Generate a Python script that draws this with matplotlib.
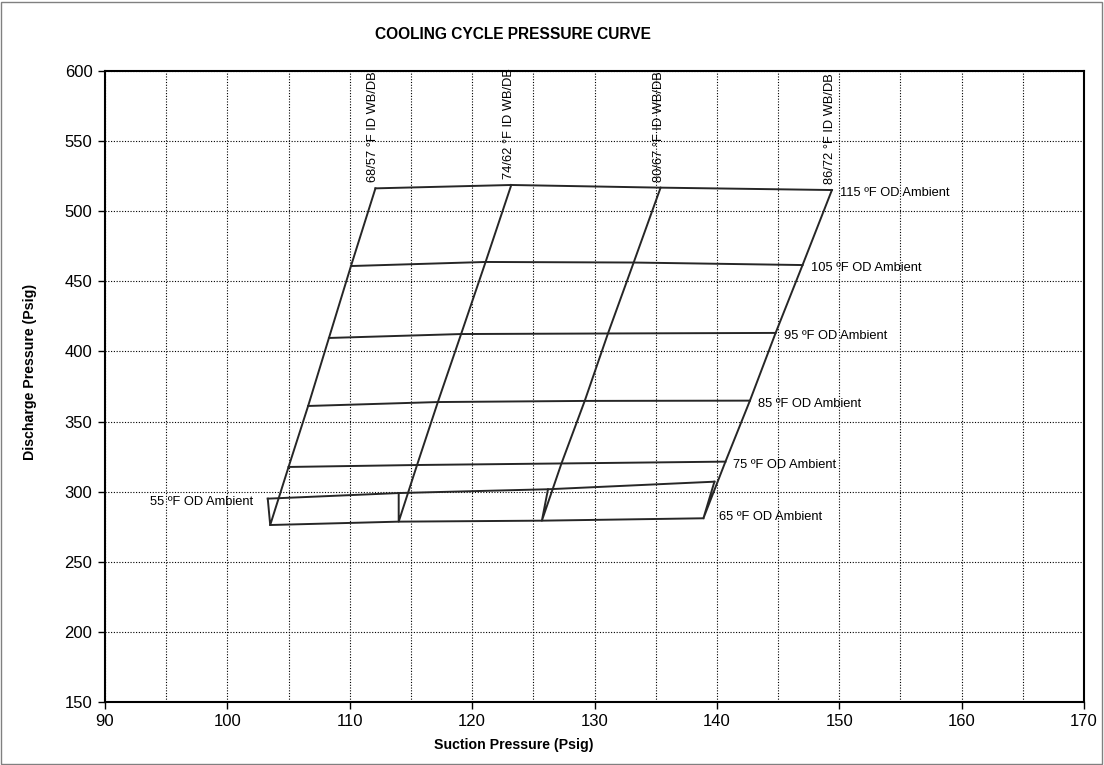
import matplotlib
matplotlib.use("Agg")
import matplotlib.pyplot as plt
from matplotlib.patches import Rectangle
from matplotlib.ticker import MultipleLocator

plt.rcParams['font.family'] = ['Liberation Sans', 'DejaVu Sans']

# outdoor ambient temperatures, in the order the points are stored in each series
ambient = ['115', '105', '95', '85', '75', '65', '55']

# indoor WB/DB series: suction (x) and discharge (y) pressure at each ambient
wb_labels = ['68/57 °F ID WB/DB', '74/62 °F ID WB/DB', '80/67 °F ID WB/DB', '86/72 °F ID WB/DB']
suction_6857 = [112.1, 110.1, 108.3, 106.6, 105.0, 103.5, 103.3]
discharge_6857 = [516.3, 460.9, 409.6, 361.1, 317.6, 276.2, 295.0]
suction_7462 = [123.2, 121.1, 119.1, 117.2, 115.5, 114.0, 114.0]
discharge_7462 = [518.7, 463.8, 412.4, 363.9, 319.0, 278.6, 299.0]
suction_8067 = [135.4, 133.2, 131.1, 129.2, 127.3, 125.7, 126.2]
discharge_8067 = [516.8, 463.4, 412.8, 364.7, 320.1, 279.3, 301.7]
suction_8672 = [149.4, 147.0, 144.8, 142.7, 140.7, 138.9, 139.8]
discharge_8672 = [515.1, 461.6, 413.2, 364.9, 321.4, 281.0, 307.1]

suction = [suction_6857, suction_7462, suction_8067, suction_8672]
discharge = [discharge_6857, discharge_7462, discharge_8067, discharge_8672]

line_c = '#262626'
fig = plt.figure(figsize=(11.04, 7.65), dpi=100)
ax = fig.add_axes([0.0951, 0.0824, 0.8868, 0.8248])

# WB/DB lines
for xs, ys, lab in zip(suction, discharge, wb_labels):
    ax.plot(xs, ys, color=line_c, lw=1.4, zorder=3)
    ax.annotate(lab, (xs[0], ys[0]), xytext=(-2, 6), textcoords='offset pixels',
                rotation=90, ha='center', va='bottom', fontsize=9.3)

# ambient lines
for i, amb in enumerate(ambient):
    xs = [s[i] for s in suction]
    ys = [d[i] for d in discharge]
    ax.plot(xs, ys, color=line_c, lw=1.4, zorder=3)
    txt = amb + ' ºF OD Ambient'
    if amb == '55':
        ax.annotate(txt, (xs[0], ys[0]), xytext=(-15, -3), textcoords='offset pixels',
                    ha='right', va='center', fontsize=9.3)
    elif amb == '65':
        ax.annotate(txt, (xs[-1], ys[-1]), xytext=(16, 1), textcoords='offset pixels',
                    ha='left', va='center', fontsize=9.3)
    else:
        ax.annotate(txt, (xs[-1], ys[-1]), xytext=(8, -3), textcoords='offset pixels',
                    ha='left', va='center', fontsize=9.3)

ax.set_xlim(90, 170)
ax.set_ylim(150, 600)
ax.xaxis.set_major_locator(MultipleLocator(10))
ax.xaxis.set_minor_locator(MultipleLocator(5))
ax.yaxis.set_major_locator(MultipleLocator(50))
ax.tick_params(which='major', direction='out', length=5, width=1, labelsize=12, pad=4)
ax.tick_params(which='minor', length=0)
ax.grid(which='both', axis='x', color='black', linestyle=(0, (1, 1.5)), lw=0.8)
ax.grid(which='major', axis='y', color='black', linestyle=(0, (1, 1.5)), lw=0.8)
ax.set_axisbelow(True)
for sp in ax.spines.values():
    sp.set_linewidth(1.5)
    sp.set_color('black')

fig.text(0.465, 0.955, 'COOLING CYCLE PRESSURE CURVE', ha='center', va='center',
         fontsize=11.2, fontweight='bold')
fig.text(0.465, 0.026, 'Suction Pressure (Psig)', ha='center', va='center',
         fontsize=10.2, fontweight='bold')
fig.text(0.027, 0.514, 'Discharge Pressure (Psig)', ha='center', va='center',
         rotation=90, fontsize=10.2, fontweight='bold')

fig.patches.append(Rectangle((0.001, 0.001), 0.997, 0.997, transform=fig.transFigure,
                             fill=False, edgecolor='#808080', lw=1))

fig.savefig('out.png', dpi=100)
